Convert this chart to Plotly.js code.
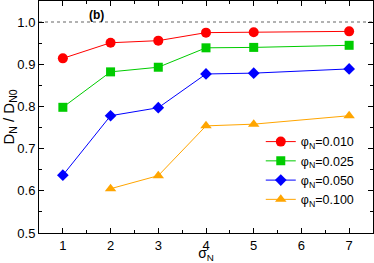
<!DOCTYPE html>
<html><head><meta charset="utf-8">
<script src="https://cdn.plot.ly/plotly-3.0.1.min.js"></script>
<style>html,body{margin:0;padding:0;background:#fff}#plot{width:374px;height:263px}</style>
</head><body><div id="plot"></div>
<script>
const sigma = [1, 2, 3, 4, 5, 7];
const sigmaOrange = [2, 3, 4, 5, 7];
const phi010 = [0.914, 0.951, 0.956, 0.975, 0.976, 0.978];
const phi025 = [0.798, 0.882, 0.893, 0.939, 0.940, 0.945];
const phi050 = [0.637, 0.778, 0.797, 0.877, 0.879, 0.889];
const phi100 = [0.605, 0.636, 0.754, 0.758, 0.778];
const names = ['φ<sub>N</sub>=0.010', 'φ<sub>N</sub>=0.025', 'φ<sub>N</sub>=0.050', 'φ<sub>N</sub>=0.100'];
const colors = ['#ff0000', '#00cc00', '#0000ff', '#ffa500'];
const symbols = ['circle', 'square', 'diamond', 'triangle-up'];
const sizes = [10, 9, 9, 10];
const xs = [sigma, sigma, sigma, sigmaOrange];
const ys = [phi010, phi025, phi050, phi100];
const traces = ys.map((y, i) => ({
  x: xs[i], y: y, name: names[i], type: 'scatter', mode: 'lines+markers',
  line: {color: colors[i], width: 1},
  marker: {color: colors[i], symbol: symbols[i], size: sizes[i]}
}));
traces.push({x: [0.5, 7.5], y: [1.0, 1.0], mode: 'lines', showlegend: false,
  line: {color: '#999', width: 1.5, dash: 'dot'}, hoverinfo: 'skip'});
const fam = 'Liberation Sans, Arial, sans-serif';
const layout = {
  width: 374, height: 263,
  margin: {l: 39, r: 1, t: 1, b: 30},
  paper_bgcolor: '#fff', plot_bgcolor: '#fff',
  font: {family: fam, size: 13, color: '#000'},
  showlegend: true,
  legend: {x: 0.664, y: 0.457, xanchor: 'left', yanchor: 'top', bgcolor: 'rgba(0,0,0,0)',
    font: {family: fam, size: 12.5}, tracegroupgap: 0, itemwidth: 30},
  xaxis: {range: [0.5, 7.5], dtick: 1, tick0: 1, showgrid: false, zeroline: false,
    showline: true, linecolor: '#000', linewidth: 1, mirror: 'ticks',
    ticks: 'inside', ticklen: 5, tickcolor: '#000',
    minor: {dtick: 0.5, tick0: 0.5, ticks: 'inside', ticklen: 3, tickcolor: '#000'},
    title: {text: 'σ<sub>N</sub>', font: {size: 14}, standoff: 5},
    tickfont: {size: 13}},
  yaxis: {range: [0.5, 1.05], dtick: 0.1, tick0: 0.5, showgrid: false, zeroline: false,
    showline: true, linecolor: '#000', linewidth: 1, mirror: 'ticks',
    ticks: 'inside', ticklen: 5, tickcolor: '#000', tickformat: '.1f',
    minor: {dtick: 0.05, tick0: 0.5, ticks: 'inside', ticklen: 3, tickcolor: '#000'},
    title: {text: 'D<sub>N</sub> / D<sub>N0</sub>', font: {size: 15}, standoff: 2},
    tickfont: {size: 13}},
  annotations: [{x: 1.7, y: 1.017, xref: 'x', yref: 'y', text: '<b>(b)</b>', showarrow: false,
    font: {size: 12}}]
};
Plotly.newPlot('plot', traces, layout, {displayModeBar: false, staticPlot: true});
</script></body></html>
